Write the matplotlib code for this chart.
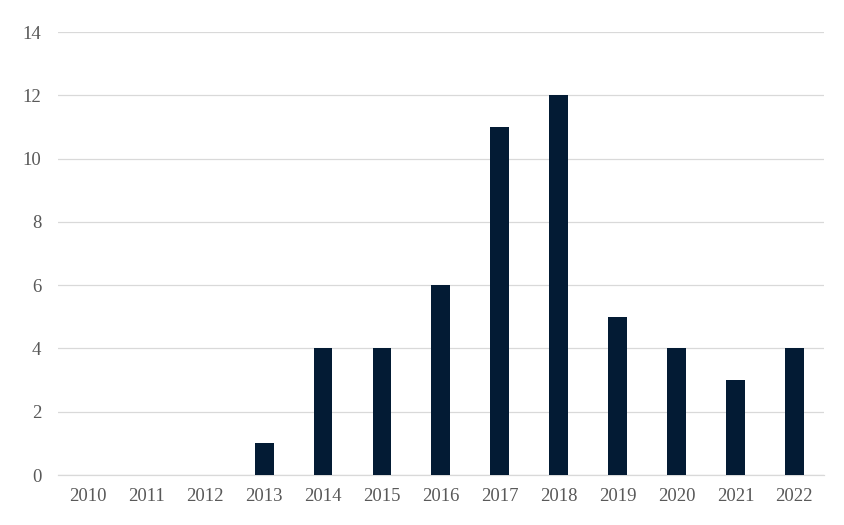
import matplotlib
matplotlib.use("Agg")
import matplotlib.pyplot as plt

years = ["2010", "2011", "2012", "2013", "2014", "2015", "2016", "2017", "2018", "2019", "2020", "2021", "2022"]
counts = [0, 0, 0, 1, 4, 4, 6, 11, 12, 5, 4, 3, 4]
yticks = [0, 2, 4, 6, 8, 10, 12, 14]

plt.rcParams['font.family'] = ['Liberation Serif', 'DejaVu Serif']

fig = plt.figure(figsize=(8.44, 5.25), dpi=100)
ax = fig.add_axes([0.0687, 0.0952, 0.9073, 0.8438])
x = list(range(len(years)))
ax.bar(x, counts, width=0.32, color="#031b34", zorder=3)
ax.set_xlim(-0.5, len(years) - 0.5)
ax.set_ylim(0, 14)
ax.set_yticks(yticks)
ax.set_xticks(x)
ax.set_xticklabels(years)
ax.grid(axis='y', color='#d9d9d9', linewidth=0.9, zorder=0)
for s in ['top', 'right', 'left']:
    ax.spines[s].set_visible(False)
ax.spines['bottom'].set_color('#d9d9d9')
ax.spines['bottom'].set_linewidth(0.9)
ax.tick_params(axis='both', length=0, labelsize=13.5, labelcolor='#595959')
ax.tick_params(axis='y', pad=12)
ax.tick_params(axis='x', pad=9)
fig.savefig("out.png", dpi=100)
